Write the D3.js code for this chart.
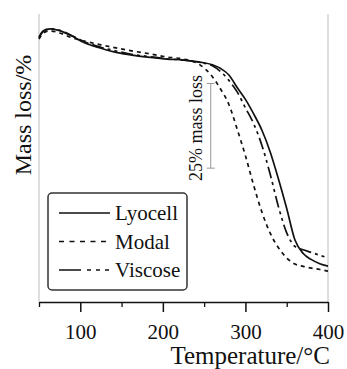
<!DOCTYPE html>
<html>
<head>
<meta charset="utf-8">
<script src="https://cdn.jsdelivr.net/npm/d3@7"></script>
<style>
  body { margin: 0; background: #fff; }
  svg { display: block; }
</style>
</head>
<body>
<script>
// temperatures (°C) where the curves were read
var temps = [50, 55, 63, 75, 90, 105, 125, 145, 165, 185, 205, 225, 245, 260, 270, 280, 290, 300, 310, 320, 330, 340, 350, 360, 370, 380, 390, 400];

// mass (%) per fibre
var lyocell = [99.9, 101.8, 102.6, 102.1, 100.5, 98.5, 96.9, 95.6, 94.8, 94.2, 93.7, 93.4, 92.8, 92.0, 90.9, 89.0, 85.3, 81.8, 77.5, 72.7, 66.3, 58.3, 49.6, 40.3, 36.3, 34.5, 33.3, 32.6];
var modal   = [99.6, 101.3, 102.0, 101.4, 100.0, 99.0, 97.9, 96.9, 96.0, 95.2, 94.3, 93.7, 92.0, 88.5, 84.8, 80.3, 73.0, 65.2, 56.4, 48.5, 42.3, 38.0, 35.0, 33.2, 32.5, 32.0, 31.6, 31.1];
var viscose = [100.2, 102.0, 102.6, 102.2, 100.6, 98.8, 97.2, 96.0, 95.0, 94.4, 93.8, 93.4, 92.7, 91.7, 90.0, 87.4, 84.0, 79.3, 74.6, 68.2, 59.7, 50.1, 42.4, 38.4, 37.4, 36.6, 35.8, 35.0];

var seriesNames = ["Lyocell", "Modal", "Viscose"];
var majorTicks = [100, 200, 300, 400];
var minorTicks = [50, 150, 250, 350];

// 25% mass loss bracket
var bracketT = 258;
var bracketMass = [86.5, 61.5];

var width = 347, height = 369;
var font = "'Liberation Serif', 'Times New Roman', serif";

var svg = d3.select("body").append("svg")
    .attr("width", width)
    .attr("height", height);

var x = d3.scaleLinear().domain([50, 400]).range([39, 328]);
var y = d3.scaleLinear().domain([22, 107]).range([302, 14]);

// light frame at both sides
svg.selectAll(".frame").data([50, 400]).enter().append("line")
    .attr("x1", function(d) { return x(d); })
    .attr("x2", function(d) { return x(d); })
    .attr("y1", y(107))
    .attr("y2", y(22))
    .attr("stroke", "#c8c8c8")
    .attr("stroke-width", 1.2);

// x axis
var gx = svg.append("g").attr("transform", "translate(0," + y(22) + ")");
gx.call(d3.axisBottom(x).tickValues(majorTicks).tickSize(10).tickSizeOuter(0).tickPadding(12).tickFormat(d3.format("d")));
gx.select(".domain").attr("stroke", "#111").attr("stroke-width", 1.5);
gx.selectAll(".tick line").attr("stroke", "#111").attr("stroke-width", 1.5);
gx.selectAll(".tick text").attr("font-family", font).attr("font-size", "21px").attr("fill", "#111");

var gm = svg.append("g").attr("transform", "translate(0," + y(22) + ")");
gm.call(d3.axisBottom(x).tickValues(minorTicks).tickSize(5).tickFormat(""));
gm.select(".domain").remove();
gm.selectAll(".tick line").attr("stroke", "#111").attr("stroke-width", 1.3);

svg.append("text")
    .attr("x", 330)
    .attr("y", 364)
    .attr("text-anchor", "end")
    .attr("font-family", font)
    .attr("font-size", "25px")
    .attr("fill", "#111")
    .text("Temperature/°C");

svg.append("text")
    .attr("transform", "translate(31,115) rotate(-90)")
    .attr("text-anchor", "middle")
    .attr("font-family", font)
    .attr("font-size", "24px")
    .attr("fill", "#111")
    .text("Mass loss/%");

// curves
var dashes = {
    "Lyocell": null,
    "Modal": "4,4",
    "Viscose": "12,4,3,4,3,4"
};
var legendDashes = {
    "Lyocell": null,
    "Modal": "5,5.5",
    "Viscose": "22,6,4,5,4,5,4"
};
var seriesData = [lyocell, modal, viscose];

var line = d3.line()
    .x(function(d) { return x(d[0]); })
    .y(function(d) { return y(d[1]); })
    .curve(d3.curveMonotoneX);

seriesNames.forEach(function(name, i) {
    var pts = temps.map(function(t, j) { return [t, seriesData[i][j]]; });
    svg.append("path")
        .datum(pts)
        .attr("d", line)
        .attr("fill", "none")
        .attr("stroke", "#111")
        .attr("stroke-width", 1.7)
        .attr("stroke-dasharray", dashes[name]);
});

// 25% bracket and label
var bx = x(bracketT);
svg.append("line")
    .attr("x1", bx).attr("x2", bx)
    .attr("y1", y(bracketMass[0])).attr("y2", y(bracketMass[1]))
    .attr("stroke", "#999").attr("stroke-width", 1);
bracketMass.forEach(function(m) {
    svg.append("line")
        .attr("x1", bx - 4).attr("x2", bx + 4)
        .attr("y1", y(m)).attr("y2", y(m))
        .attr("stroke", "#999").attr("stroke-width", 1);
});
svg.append("text")
    .attr("transform", "translate(202,128) rotate(-90)")
    .attr("text-anchor", "middle")
    .attr("font-family", font)
    .attr("font-size", "18px")
    .attr("fill", "#111")
    .text("25% mass loss");

// legend
var legend = svg.append("g");
legend.append("rect")
    .attr("x", 48).attr("y", 193)
    .attr("width", 139).attr("height", 97)
    .attr("rx", 4)
    .attr("fill", "#fff")
    .attr("stroke", "#333")
    .attr("stroke-width", 1.5);

var item = legend.selectAll(".item").data(seriesNames).enter().append("g")
    .attr("transform", function(d, i) { return "translate(0," + (213 + i * 28.5) + ")"; });
item.append("line")
    .attr("x1", 59).attr("x2", 110)
    .attr("stroke", "#111")
    .attr("stroke-width", 1.6)
    .attr("stroke-dasharray", function(d) { return legendDashes[d]; });
item.append("text")
    .attr("x", 115)
    .attr("y", 7)
    .attr("font-family", font)
    .attr("font-size", "21px")
    .attr("fill", "#111")
    .text(function(d) { return d; });
</script>
</body>
</html>
